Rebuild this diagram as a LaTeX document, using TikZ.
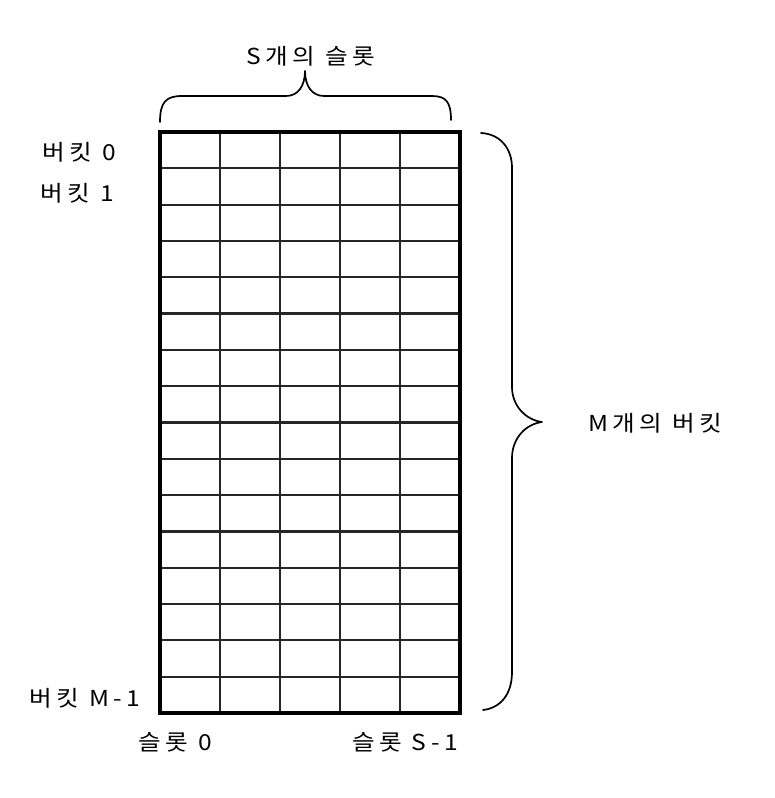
\documentclass[tikz,border=0pt]{standalone}
\usepackage{fontspec}
\newfontfamily\kr[LetterSpace=18]{Noto Sans CJK KR}
\newcommand{\wide}[1]{\scalebox{1.12}[1]{#1}}
\begin{document}
\begin{tikzpicture}[x=1pt,y=-1pt,
  lbl/.style={font=\kr\fontsize{22}{22}\selectfont, inner sep=0pt, anchor=center},
  outerbox/.style={line width=3.5pt},
  gridline/.style={line width=2.2pt, draw=black!85},
  bracepath/.style={line width=1.7pt, line cap=round, line join=round}]
\useasboundingbox (0,0) rectangle (775,798);
\fill[white] (0,0) rectangle (775,798);
% grid
\foreach \i in {1,...,4} \draw[gridline] ({160+60*\i},132) -- ({160+60*\i},713);
\foreach \j in {1,...,15} \draw[gridline] (160,{132+36.3125*\j}) -- (460,{132+36.3125*\j});
\draw[outerbox] (160,132) rectangle (460,713);
% top brace
\draw[bracepath] (160,122) .. controls (160,102) and (166,96) .. (182,96) -- (286,96)
  .. controls (298,96) and (305,86) .. (305,71)
  .. controls (305,86) and (312,96) .. (324,96) -- (432,96)
  .. controls (446,96) and (451,102) .. (451,120);
% right brace
\draw[bracepath] (481,133) .. controls (500,134) and (512,148) .. (512,168) -- (512,387)
  .. controls (512,406) and (526,420) .. (542,422)
  .. controls (526,424) and (512,438) .. (512,458) -- (512,672)
  .. controls (512,695) and (500,708) .. (483,710);
% labels
\node[lbl] (slots) at (311,56) {\wide{S개의 슬롯}};
\node[lbl] (b0) at (79,152) {\wide{버킷 0}};
\node[lbl] (b1) at (77,193) {\wide{버킷 1}};
\node[lbl] (bm) at (85,698) {\wide{버킷 M-1}};
\node[lbl] (s0) at (175,742) {\wide{슬롯 0}};
\node[lbl] (ss) at (405,742) {\wide{슬롯 S-1}};
\node[lbl] (buckets) at (655,423) {\wide{M개의 버킷}};
\end{tikzpicture}
\end{document}
